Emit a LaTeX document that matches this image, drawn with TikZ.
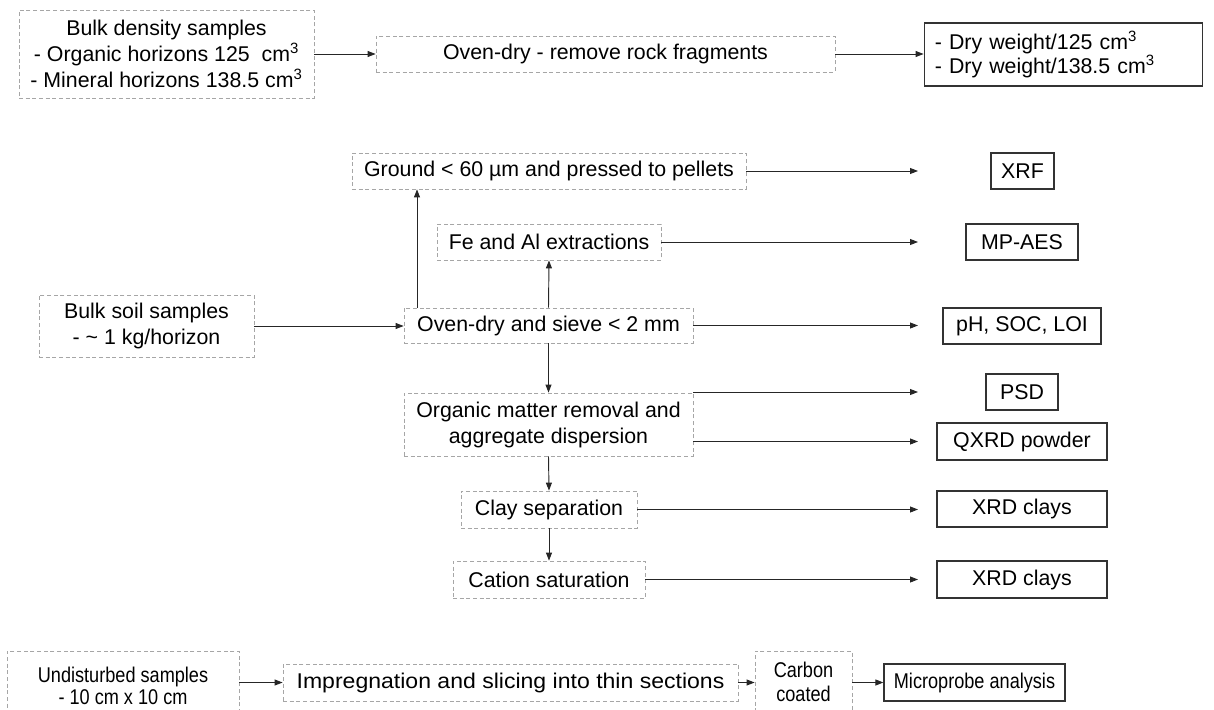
\documentclass[tikz,border=0pt]{standalone}
\usepackage{fontspec}
\setmainfont{Liberation Sans}
\newfontfamily\narrowFont[FakeStretch=0.85]{Liberation Sans}
\newfontfamily\wideFont[FakeStretch=1.08]{Liberation Sans}
\usetikzlibrary{arrows.meta}

\tikzset{
	stepBox/.style={draw=black!35, dash pattern=on 3pt off 2pt, line width=0.6pt, inner sep=0pt, align=center},
	resultBox/.style={draw=black!80, line width=0.9pt, inner sep=0pt, align=center},
	flowArrow/.style={-{Triangle[length=6pt,width=4.5pt]}, line width=0.7pt, draw=black!85},
}

\begin{document}
\begin{tikzpicture}[x=0.75pt,y=-0.75pt,font=\fontsize{16}{19.5}\selectfont]
	\clip (0,0) rectangle (1214,710);
	\coordinate (outX) at (918,0);
	\coordinate (riseX) at (417,0);
	
	% Bulk density
	\node[stepBox, minimum width=221.25pt, minimum height=66pt] (bulkDensity) at (166.5,54) {Bulk density samples\\- Organic horizons 125\ \ cm\textsuperscript{3}\\- Mineral horizons 138.5 cm\textsuperscript{3}};
	\node[stepBox, minimum width=344.25pt, minimum height=27pt] (ovenRock) at (605.5,54) {Oven-dry - remove rock fragments};
	\node[resultBox, font=\fontsize{16}{16.5}\selectfont, align=left, text width=193pt, inner xsep=8pt, minimum height=47.25pt] (dryWeight) at (1063.5,54.5) {- Dry weight/125 cm\textsuperscript{3}\\- Dry weight/138.5 cm\textsuperscript{3}};
	\draw[flowArrow] (bulkDensity.east) -- (ovenRock.west);
	\draw[flowArrow] (ovenRock.east) -- (ovenRock.east -| dryWeight.west);
	
	% Bulk soil - treatment steps
	\node[stepBox, minimum width=161.25pt, minimum height=46.5pt] (bulkSoil) at (146.5,326) {Bulk soil samples\\- \textasciitilde\ 1 kg/horizon};
	\node[stepBox, minimum width=295.5pt, minimum height=27pt] (ground) at (549,171) {Ground < 60 µm and pressed to pellets};
	\node[stepBox, minimum width=168pt, minimum height=27pt] (feAl) at (549,242) {Fe and Al extractions};
	\node[stepBox, minimum width=216.75pt, minimum height=26.25pt] (ovenSieve) at (548.5,325.5) {Oven-dry and sieve < 2 mm};
	\node[stepBox, minimum width=216.75pt, minimum height=47.25pt] (organic) at (548.5,424.5) {Organic matter removal and\\aggregate dispersion};
	\node[stepBox, minimum width=132pt, minimum height=27.75pt] (claySep) at (549,509.5) {Clay separation};
	\node[stepBox, minimum width=144pt, minimum height=27.75pt] (cation) at (549,579.5) {Cation saturation};
	
	% Bulk soil - analyses
	\node[resultBox, minimum width=47.25pt, minimum height=27pt] (xrf) at (1022.5,171) {XRF};
	\node[resultBox, minimum width=84pt, minimum height=27pt] (mpAes) at (1022,242) {MP-AES};
	\node[resultBox, minimum width=118.5pt, minimum height=27pt] (phSoc) at (1022,326) {pH, SOC, LOI};
	\node[resultBox, minimum width=54pt, minimum height=27pt] (psd) at (1022,392) {PSD};
	\node[resultBox, minimum width=127.5pt, minimum height=27.75pt] (qxrd) at (1022,441.5) {QXRD powder};
	\node[resultBox, minimum width=127.5pt, minimum height=27pt] (xrdA) at (1022,509) {XRD clays};
	\node[resultBox, minimum width=127.5pt, minimum height=27.75pt] (xrdB) at (1022,579.5) {XRD clays};
	
	\draw[flowArrow] (bulkSoil.east) -- (bulkSoil.east -| ovenSieve.west);
	\draw[flowArrow] (ovenSieve.north -| riseX) -- (ground.south -| riseX);
	\draw[flowArrow] (ovenSieve.north) -- (feAl.south);
	\draw[flowArrow] (ovenSieve.south) -- (organic.north);
	\draw[flowArrow] (organic.south) -- (claySep.north);
	\draw[flowArrow] (claySep.south) -- (cation.north);
	\foreach \src in {ground,feAl,ovenSieve,claySep,cation} {
		\draw[flowArrow] (\src.east) -- (\src.east -| outX);
	}
	\draw[flowArrow] (organic.east |- psd) -- (outX |- psd);
	\draw[flowArrow] (organic.east |- qxrd) -- (outX |- qxrd);
	
	% Undisturbed samples
	\node[stepBox, font=\narrowFont\fontsize{16}{16.5}\selectfont, minimum width=174pt, minimum height=52.5pt] (undisturbed) at (123,686) {Undisturbed samples\\- 10 cm x 10 cm};
	\node[stepBox, font=\wideFont\fontsize{16}{16.5}\selectfont, minimum width=341.25pt, minimum height=27.75pt] (impreg) at (510.5,682.5) {Impregnation and slicing into thin sections};
	\node[stepBox, font=\narrowFont\fontsize{16}{18}\selectfont, minimum width=72.75pt, minimum height=46.5pt] (carbon) at (803.5,682) {Carbon\\coated};
	\node[resultBox, font=\narrowFont\fontsize{16}{16.5}\selectfont, minimum width=135.75pt, minimum height=27.75pt] (microprobe) at (974.5,682.5) {Microprobe analysis};
	\draw[flowArrow] (impreg.west -| undisturbed.east) -- (impreg.west);
	\draw[flowArrow] (impreg.east) -- (impreg.east -| carbon.west);
	\draw[flowArrow] (microprobe.west -| carbon.east) -- (microprobe.west);
\end{tikzpicture}
\end{document}
